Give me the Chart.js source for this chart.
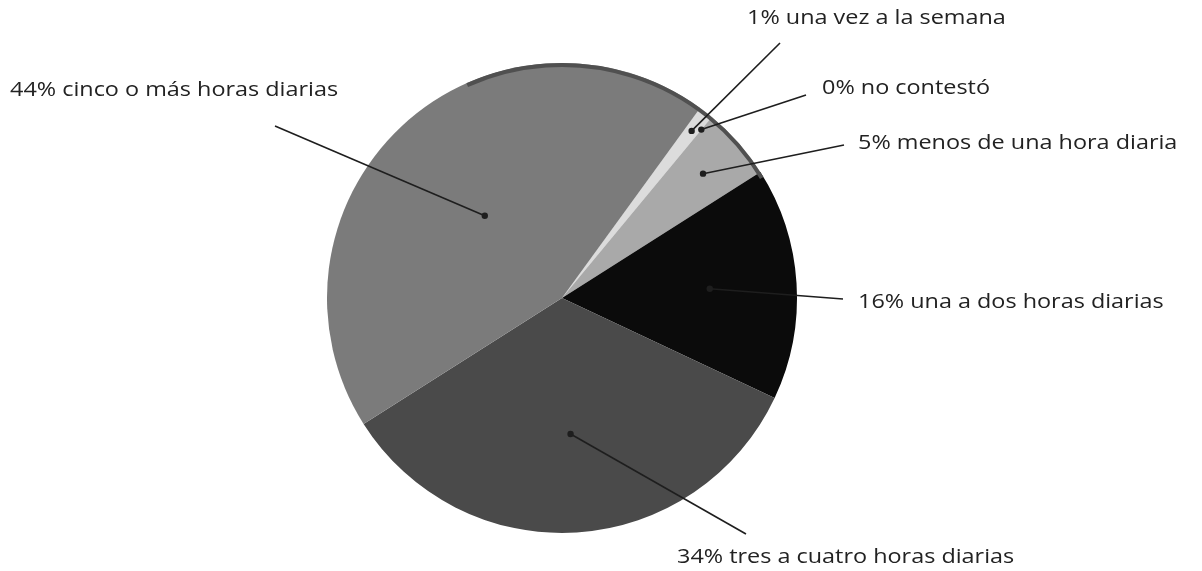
<!DOCTYPE html>
<html>
<head>
<meta charset="utf-8">
<script src="https://cdn.jsdelivr.net/npm/chart.js@4/dist/chart.umd.min.js"></script>
<style>
html,body{margin:0;padding:0;background:#fff;}
#wrap{width:1202px;height:571px;position:relative;}
</style>
</head>
<body>
<div id="wrap"><canvas id="c" width="1202" height="571"></canvas></div>
<script>
const categories = ["una vez a la semana","no contestó","menos de una hora diaria","una a dos horas diarias","tres a cuatro horas diarias","cinco o más horas diarias"];
const values = [1, 0, 5, 16, 34, 44];
const labelTexts = ["1% una vez a la semana","0% no contestó","5% menos de una hora diaria","16% una a dos horas diarias","34% tres a cuatro horas diarias","44% cinco o más horas diarias"];
const colors = ["#dcdcdc","#555555","#a9a9a9","#0b0b0b","#4a4a4a","#7b7b7b"];

// label layout (text position, leader end, dot radius fraction)
const labelLayout = [
  {tx:747, ty:18, lx:780, ly:43, r:0.9},
  {tx:822, ty:88, lx:806, ly:95, r:0.93},
  {tx:858, ty:143, lx:844, ly:145, r:0.8},
  {tx:858, ty:302, lx:843, ly:299, r:0.63},
  {tx:677, ty:557, lx:746, ly:534, r:0.58},
  {tx:10, ty:90, lx:275, ly:126, r:0.48}
];

const labelPlugin = {
  id:'leaderLabels',
  afterDatasetsDraw(chart){
    const ctx = chart.ctx;
    const meta = chart.getDatasetMeta(0);
    ctx.save();
    // 3D rim on upper edge
    const a0 = meta.data[0];
    ctx.strokeStyle = '#505050';
    ctx.lineWidth = 4;
    ctx.beginPath();
    ctx.arc(a0.x, a0.y, a0.outerRadius - 2, -114 * Math.PI/180, -31 * Math.PI/180);
    ctx.stroke();
    meta.data.forEach((arc, i) => {
      const L = labelLayout[i];
      const mid = (arc.startAngle + arc.endAngle) / 2;
      const rr = arc.outerRadius * L.r;
      const dx = arc.x + Math.cos(mid) * rr;
      const dy = arc.y + Math.sin(mid) * rr;
      ctx.strokeStyle = '#1e1e1e';
      ctx.lineWidth = 1.6;
      ctx.beginPath();
      ctx.moveTo(dx, dy);
      ctx.lineTo(L.lx, L.ly);
      ctx.stroke();
      ctx.fillStyle = '#1e1e1e';
      ctx.beginPath();
      ctx.arc(dx, dy, 3.2, 0, Math.PI*2);
      ctx.fill();
      ctx.save();
      ctx.translate(L.tx, L.ty);
      ctx.scale(1.17, 1);
      ctx.font = '20px "Open Sans", sans-serif';
      ctx.textBaseline = 'middle';
      ctx.textAlign = 'left';
      ctx.fillStyle = '#222';
      ctx.fillText(labelTexts[i], 0, 0);
      ctx.restore();
    });
    ctx.restore();
  }
};

new Chart(document.getElementById('c'), {
  type:'pie',
  data:{
    labels: categories,
    datasets:[{
      data: values,
      backgroundColor: colors,
      borderWidth: 0
    }]
  },
  options:{
    responsive:false,
    animation:false,
    rotation:36,
    layout:{padding:{top:63,bottom:38,left:0,right:78}},
    plugins:{legend:{display:false},tooltip:{enabled:false}}
  },
  plugins:[labelPlugin]
});
</script>
</body>
</html>
